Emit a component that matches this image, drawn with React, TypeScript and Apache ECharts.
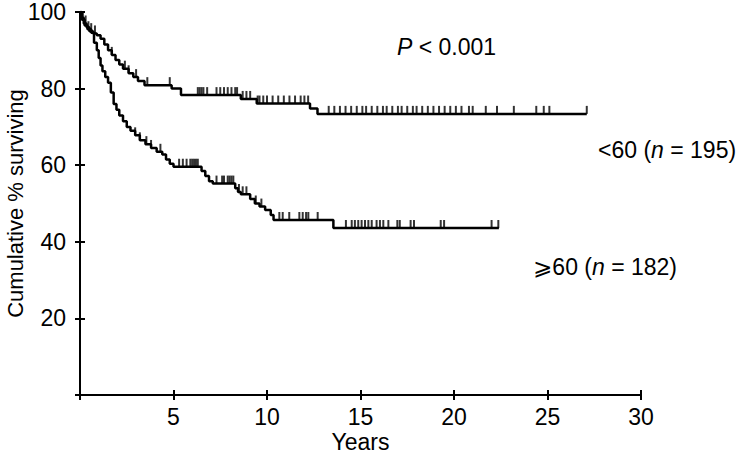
import React, { useEffect, useRef } from "react";
import * as echarts from "echarts";

// Kaplan–Meier steps: [years, cumulative % surviving after the drop]
const under60Steps: [number, number][] = [
  [0, 100], [0.1, 98.5], [0.2, 97], [0.35, 96], [0.5, 95], [0.7, 94.4], [0.9, 93.9],
  [1.1, 93], [1.3, 91.5], [1.5, 90], [1.7, 88.8], [1.9, 87.5], [2.1, 86.3], [2.3, 85.2],
  [2.6, 84], [2.85, 83], [3.1, 82], [3.45, 80.9], [4.9, 80], [5.4, 78.3], [8.6, 77.3],
  [9.45, 76.1], [12.3, 74.8], [12.7, 73.4], [27.1, 73.4],
];

const over60Steps: [number, number][] = [
  [0, 100], [0.1, 98], [0.25, 96.5], [0.4, 95.5], [0.6, 94.6], [0.75, 92], [0.9, 90],
  [1.0, 88], [1.1, 86], [1.2, 84.5], [1.35, 83], [1.5, 81.5], [1.65, 79], [1.8, 76],
  [1.95, 74.5], [2.1, 73], [2.3, 71.5], [2.5, 70], [2.7, 69], [2.95, 67.8], [3.2, 66.5],
  [3.5, 65.5], [3.8, 64.5], [4.1, 63.5], [4.4, 62.8], [4.6, 61.5], [4.8, 60.4], [5.0, 59.6],
  [6.5, 58.5], [6.7, 57.2], [6.9, 55.8], [7.1, 55.2], [8.3, 54], [8.45, 53], [8.6, 52.4],
  [9.1, 51.2], [9.35, 50], [9.6, 49.2], [9.9, 48.3], [10.2, 47], [10.35, 45.7],
  [13.55, 43.6], [22.4, 43.6],
];

// censored observations (years)
const under60Censored: number[] = [
  0.3, 0.6, 0.8, 1.7, 2.4, 2.6, 3.0, 3.6, 4.8, 6.3, 6.4, 6.5, 6.6, 6.8, 7.3, 7.5, 7.7,
  7.9, 8.1, 8.3, 8.4, 8.7, 8.9, 9.1, 9.5, 9.6, 9.8, 10.0, 10.3, 10.6, 10.9, 11.2, 11.5,
  11.8, 12.0, 12.2, 13.3, 13.6, 13.9, 14.2, 14.5, 14.8, 15.1, 15.3, 15.6, 15.9, 16.2,
  16.4, 16.7, 17.0, 17.2, 17.5, 17.8, 18.0, 18.3, 18.6, 18.9, 19.2, 19.5, 19.8, 20.1,
  20.4, 20.8, 21.0, 21.7, 22.3, 23.2, 24.4, 24.8, 25.1, 27.1,
];

const over60Censored: number[] = [
  0.15, 0.45, 2.95, 3.2, 3.55, 3.8, 4.3, 5.3, 5.5, 5.7, 5.9, 6.0, 6.1, 6.2, 6.3, 7.3,
  7.6, 7.7, 7.9, 8.0, 8.1, 8.2, 8.5, 8.7, 8.9, 9.4, 9.7, 10.66, 10.84, 11.19, 11.73,
  11.91, 12.09, 12.21, 12.71, 14.22, 14.53, 14.7, 14.88, 15.06, 15.24, 15.42, 15.6,
  15.86, 16.04, 16.22, 16.49, 16.97, 17.1, 17.68, 17.86, 19.29, 19.47, 22.01, 22.37,
];

const xTicks = { min: 0, max: 30, interval: 5 };
const yTicks = { min: 0, max: 100, interval: 20 };

const FONT = "'Liberation Sans', Arial, 'DejaVu Sans', sans-serif";
const FS = 23;

function survivalAt(steps: [number, number][], t: number): number {
  let v = steps[0][1];
  for (const [x, y] of steps) {
    if (x <= t) v = y;
    else break;
  }
  return v;
}

export default function App() {
  const ref = useRef<HTMLDivElement>(null);
  useEffect(() => {
    document.body.style.margin = "0";
    const chart = echarts.init(ref.current!, null, { renderer: "svg" });
    const axisLineStyle = { color: "#000", width: 2 };
    const labelStyle = { color: "#000", fontSize: FS, fontFamily: FONT };
    const hideZero = (v: number) => (v === 0 ? "" : String(v));
    const censorSeries = (name: string, steps: [number, number][], times: number[]) => ({
      type: "scatter",
      name,
      data: times.map((t) => [t, survivalAt(steps, t)]),
      symbol: "rect",
      symbolSize: [2, 8],
      symbolOffset: [0, -4],
      itemStyle: { color: "#000" },
      silent: true,
      z: 3,
    });
    chart.setOption({
      animation: false,
      backgroundColor: "#fff",
      grid: {
        left: 80,
        right: 101,
        top: 12,
        bottom: 63,
        containLabel: false,
        outerBoundsMode: "none",
      },
      xAxis: [
        {
          type: "value",
          ...xTicks,
          position: "bottom",
          axisLine: { show: true, lineStyle: axisLineStyle },
          axisTick: { show: true, length: 5, lineStyle: axisLineStyle },
          axisLabel: { ...labelStyle, margin: 10, formatter: hideZero },
          splitLine: { show: false },
          name: "Years",
          nameLocation: "middle",
          nameGap: 35,
          nameMoveOverlap: false,
          nameTextStyle: { ...labelStyle },
        },
        {
          type: "value",
          ...xTicks,
          position: "bottom",
          axisLine: { show: false },
          axisTick: { show: true, inside: true, length: 5, lineStyle: axisLineStyle },
          axisLabel: { show: false },
          splitLine: { show: false },
        },
      ],
      yAxis: [
        {
          type: "value",
          ...yTicks,
          position: "left",
          axisLine: { show: true, lineStyle: axisLineStyle },
          axisTick: { show: true, length: 5, lineStyle: axisLineStyle },
          axisLabel: { ...labelStyle, margin: 14, formatter: hideZero },
          splitLine: { show: false },
          name: "Cumulative % surviving",
          nameLocation: "middle",
          nameGap: 54,
          nameMoveOverlap: false,
          nameTextStyle: { ...labelStyle, fontSize: 22 },
        },
        {
          type: "value",
          ...yTicks,
          position: "left",
          axisLine: { show: false },
          axisTick: { show: true, inside: true, length: 5, lineStyle: axisLineStyle },
          axisLabel: { show: false },
          splitLine: { show: false },
        },
      ],
      series: [
        {
          type: "line",
          name: "<60",
          step: "end",
          data: under60Steps,
          symbol: "none",
          lineStyle: { color: "#000", width: 2.5 },
          silent: true,
        },
        {
          type: "line",
          name: "≥60",
          step: "end",
          data: over60Steps,
          symbol: "none",
          lineStyle: { color: "#000", width: 2.5 },
          silent: true,
        },
        censorSeries("<60 censored", under60Steps, under60Censored),
        censorSeries("≥60 censored", over60Steps, over60Censored),
      ],
      graphic: [
        {
          type: "text",
          x: 397,
          y: 47,
          style: {
            text: "{i|P} < 0.001",
            fill: "#000",
            font: `${FS}px ${FONT}`,
            verticalAlign: "middle",
            rich: { i: { fontStyle: "italic", fontSize: FS, fontFamily: FONT } },
          },
        },
        {
          type: "text",
          x: 598,
          y: 150,
          style: {
            text: "<60 ({i|n} = 195)",
            fill: "#000",
            font: `${FS}px ${FONT}`,
            verticalAlign: "middle",
            rich: { i: { fontStyle: "italic", fontSize: FS, fontFamily: FONT } },
          },
        },
        {
          type: "text",
          x: 677,
          y: 267,
          style: {
            text: "⩾60 ({i|n} = 182)",
            fill: "#000",
            font: `${FS}px ${FONT}`,
            align: "right",
            verticalAlign: "middle",
            rich: { i: { fontStyle: "italic", fontSize: FS, fontFamily: FONT } },
          },
        },
      ],
    });
    return () => chart.dispose();
  }, []);
  return (
    <div
      ref={ref}
      style={{ position: "fixed", left: 0, top: 0, width: 742, height: 458 }}
    />
  );
}
